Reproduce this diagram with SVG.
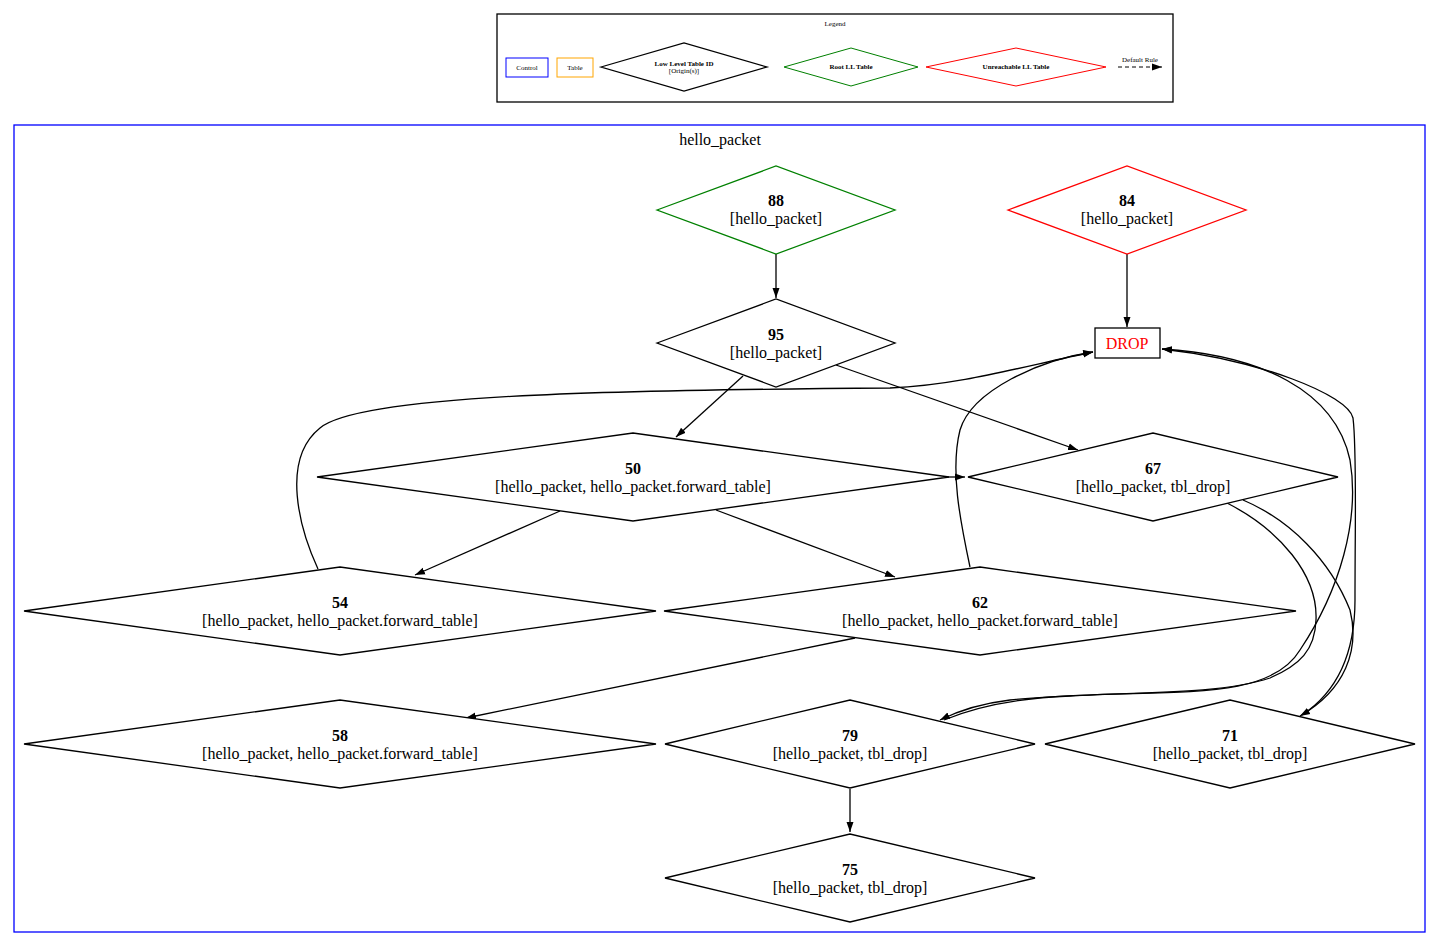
<svg xmlns="http://www.w3.org/2000/svg" width="1440" height="947" viewBox="0 0 1440 947">
<style>
text{font-family:"Liberation Serif","Times New Roman",serif;text-anchor:middle;fill:#000}
.n{font-size:16px;font-weight:bold}.l{font-size:16px}
.d{fill:#fff;stroke:#000;stroke-width:1.3}
.e{fill:none;stroke:#000;stroke-width:1.3}
.s{font-size:7px}.sb{font-size:7px;font-weight:bold}
</style>
<defs><marker id="a" viewBox="0 0 10 10" refX="10" refY="5" markerWidth="10" markerHeight="10" markerUnits="userSpaceOnUse" orient="auto"><path d="M0,1.5L10,5L0,8.5z" fill="#000"/></marker></defs>
<rect width="1440" height="947" fill="#fff"/>
<g id="legend">
<rect x="497" y="14" width="676" height="88" fill="none" stroke="#000" stroke-width="1.3"/>
<text x="835" y="26" class="s">Legend</text>
<rect x="506" y="58" width="42" height="19" fill="none" stroke="#00f"/><text x="527" y="70" class="s">Control</text>
<rect x="557" y="58" width="36" height="19" fill="none" stroke="orange"/><text x="575" y="70" class="s">Table</text>
<polygon points="601,67 684,43 767,67 684,91" class="d"/><text x="684" y="66" class="sb">Low Level Table ID</text><text x="684" y="73" class="s">[Origin(s)]</text>
<polygon points="784,67 851,48 918,67 851,86" fill="none" stroke="green"/><text x="851" y="69" class="sb">Root LL Table</text>
<polygon points="926,67 1016,48 1106,67 1016,86" fill="none" stroke="red"/><text x="1016" y="69" class="sb">Unreachable LL Table</text>
<text x="1140" y="62" class="s">Default Rule</text>
<line x1="1118" y1="67" x2="1162" y2="67" stroke="#000" stroke-dasharray="4,3" marker-end="url(#a)"/>
</g>
<g id="cluster"><rect x="14" y="125" width="1411" height="807" fill="none" stroke="#00f" stroke-width="1.3"/><text x="720" y="145" class="l">hello_packet</text></g>
<g id="edges">
<path class="e" d="M776,254V298" marker-end="url(#a)"/>
<path class="e" d="M1127,254V327" marker-end="url(#a)"/>
<path class="e" d="M743,376L676,437" marker-end="url(#a)"/>
<path class="e" d="M836,365L1078,450" marker-end="url(#a)"/>
<path class="e" d="M560,511L415,575" marker-end="url(#a)"/>
<path class="e" d="M716,510L895,577" marker-end="url(#a)"/>
<path class="e" d="M940,477L965,477" marker-end="url(#a)"/>
<path class="e" d="M318,569C300,530 280,460 320,428C360,395 600,390 890,388C960,385 1020,367 1093,352" marker-end="url(#a)"/>
<path class="e" d="M970,567C960,520 950,470 960,430C972,390 1040,360 1093,352" marker-end="url(#a)"/>
<path class="e" d="M855,638L466,718" marker-end="url(#a)"/>
<path class="e" d="M850,789V832" marker-end="url(#a)"/>
<path class="e" d="M1227,503C1280,530 1318,575 1316,620C1315,650 1300,665 1270,678C1210,698 1100,690 1010,700C985,703 960,710 940,720" marker-end="url(#a)"/>
<path class="e" d="M944,720C980,705 1020,698 1070,696C1180,690 1270,700 1300,650C1340,590 1360,520 1350,460C1335,390 1260,355 1162,349" marker-end="url(#a)"/>
<path class="e" d="M1243,500C1290,520 1330,560 1350,610C1360,650 1345,690 1300,716" marker-end="url(#a)"/>
<path class="e" d="M1302,715C1340,690 1355,650 1355,600C1355,520 1357,450 1353,418C1348,395 1260,360 1162,349" marker-end="url(#a)"/>
</g>
<g id="n88"><polygon points="657,210 776,166 895,210 776,254" fill="#fff" stroke="green" stroke-width="1.3"/><text x="776" y="206" class="n">88</text><text x="776" y="224" class="l">[hello_packet]</text></g>
<g id="n84"><polygon points="1008,210 1127,166 1246,210 1127,254" fill="#fff" stroke="red" stroke-width="1.3"/><text x="1127" y="206" class="n">84</text><text x="1127" y="224" class="l">[hello_packet]</text></g>
<g id="n95"><polygon points="657,343 776,299 895,343 776,387" class="d"/><text x="776" y="340" class="n">95</text><text x="776" y="358" class="l">[hello_packet]</text></g>
<g id="drop"><rect x="1095" y="328" width="65" height="30" class="d"/><text x="1127" y="349" class="l" fill="red" style="fill:red">DROP</text></g>
<g id="n50"><polygon points="317,477 633,433 949,477 633,521" class="d"/><text x="633" y="474" class="n">50</text><text x="633" y="492" class="l">[hello_packet, hello_packet.forward_table]</text></g>
<g id="n67"><polygon points="968,477 1153,433 1338,477 1153,521" class="d"/><text x="1153" y="474" class="n">67</text><text x="1153" y="492" class="l">[hello_packet, tbl_drop]</text></g>
<g id="n54"><polygon points="24,611 340,567 656,611 340,655" class="d"/><text x="340" y="608" class="n">54</text><text x="340" y="626" class="l">[hello_packet, hello_packet.forward_table]</text></g>
<g id="n62"><polygon points="664,611 980,567 1296,611 980,655" class="d"/><text x="980" y="608" class="n">62</text><text x="980" y="626" class="l">[hello_packet, hello_packet.forward_table]</text></g>
<g id="n58"><polygon points="24,744 340,700 656,744 340,788" class="d"/><text x="340" y="741" class="n">58</text><text x="340" y="759" class="l">[hello_packet, hello_packet.forward_table]</text></g>
<g id="n79"><polygon points="665,744 850,700 1035,744 850,788" class="d"/><text x="850" y="741" class="n">79</text><text x="850" y="759" class="l">[hello_packet, tbl_drop]</text></g>
<g id="n71"><polygon points="1045,744 1230,700 1415,744 1230,788" class="d"/><text x="1230" y="741" class="n">71</text><text x="1230" y="759" class="l">[hello_packet, tbl_drop]</text></g>
<g id="n75"><polygon points="665,878 850,834 1035,878 850,922" class="d"/><text x="850" y="875" class="n">75</text><text x="850" y="893" class="l">[hello_packet, tbl_drop]</text></g>
</svg>
